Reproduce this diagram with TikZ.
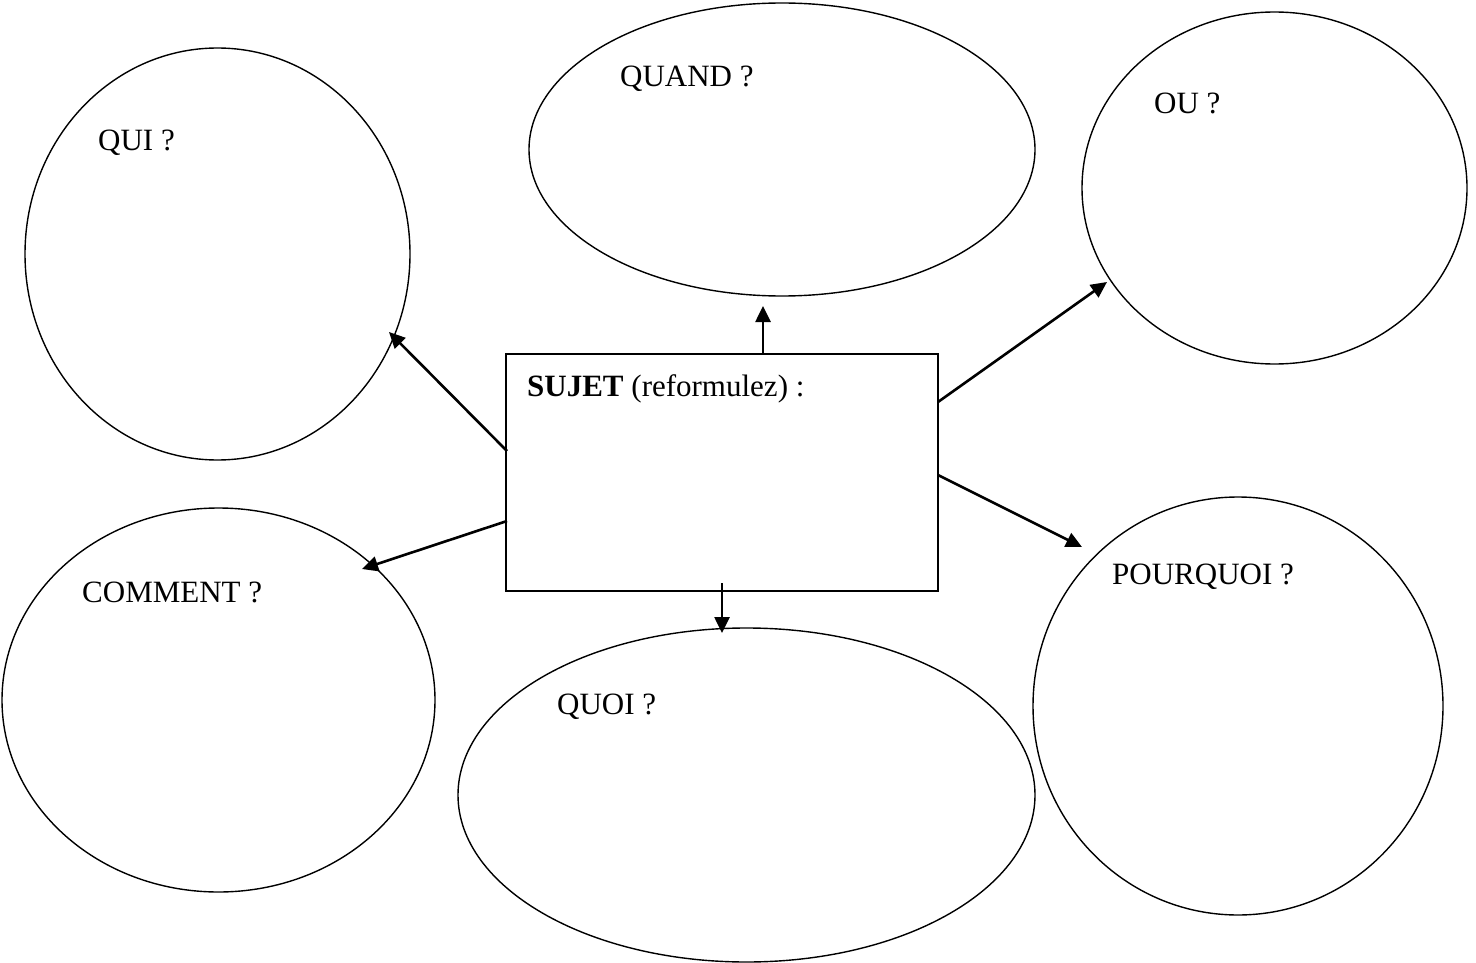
\documentclass[tikz,border=0pt]{standalone}
\usepackage{fontspec}
\setmainfont{Liberation Serif}
\usetikzlibrary{shapes.geometric,arrows.meta}
\begin{document}
\begin{tikzpicture}[x=1pt,y=-1pt,
  bubble/.style={draw,ellipse,line width=1.4pt,inner sep=0pt},
  lbl/.style={anchor=base west,inner sep=0pt,font=\fontsize{31}{36}\selectfont},
  link/.style={line width=2.6pt,-{Triangle[length=16pt,width=15pt]}},
  box/.style={draw,line width=1.4pt,inner sep=0pt}]
\useasboundingbox (0,0) rectangle (1476,963);
% ellipses
\node[bubble,minimum width=385pt,minimum height=412pt] (qui) at (217.5,254) {};
\node[bubble,minimum width=506pt,minimum height=293pt] (quand) at (782,149.5) {};
\node[bubble,minimum width=385pt,minimum height=352pt] (ou) at (1274.5,188) {};
\node[bubble,minimum width=433pt,minimum height=384pt] (comment) at (218.5,700) {};
\node[bubble,minimum width=577pt,minimum height=334pt] (quoi) at (746.5,795) {};
\node[bubble,minimum width=410pt,minimum height=418pt] (pourquoi) at (1238,706) {};
% central box
\node[box,minimum width=432pt,minimum height=237pt] (sujet) at (722,472.5) {};
% labels
\node[lbl] (tqui) at (98,151) {QUI ?};
\node[lbl] (tquand) at (620,87) {QUAND ?};
\node[lbl] (tou) at (1154,114) {OU ?};
\node[lbl] (tcomment) at (82,602) {COMMENT ?};
\node[lbl] (tquoi) at (557,714) {QUOI ?};
\node[lbl] (tpourquoi) at (1112,584) {POURQUOI ?};
\node[lbl] (tsujet) at (527,396) {\textbf{SUJET} (reformulez) :};
% connector ends
\coordinate (sUp) at (763,354);
\coordinate (eUp) at (763,306);
\coordinate (sQui) at (507,451);
\coordinate (eQui) at (389,332);
\coordinate (sOu) at (938,402);
\coordinate (eOu) at (1107,282);
\coordinate (sCom) at (507,521);
\coordinate (eCom) at (362,569);
\coordinate (sDown) at (722,583);
\coordinate (eDown) at (722,633);
\coordinate (sPq) at (938,475);
\coordinate (ePq) at (1082,547);
\draw[link] (sUp) -- (eUp);
\draw[link] (sQui) -- (eQui);
\draw[link] (sOu) -- (eOu);
\draw[link] (sCom) -- (eCom);
\draw[link] (sDown) -- (eDown);
\draw[link] (sPq) -- (ePq);
\end{tikzpicture}
\end{document}
